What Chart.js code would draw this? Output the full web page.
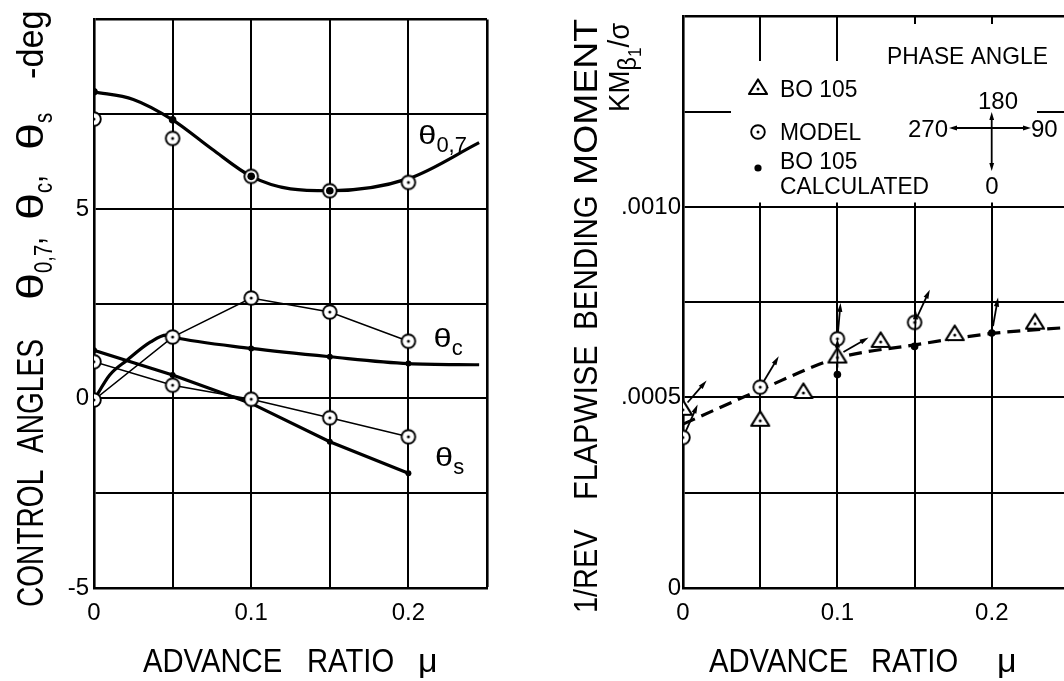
<!DOCTYPE html>
<html><head><meta charset="utf-8">
<script src="https://cdn.jsdelivr.net/npm/chart.js@4.4.1/dist/chart.umd.min.js"></script>
<style>
html,body{margin:0;padding:0;background:#fff;overflow:hidden;width:1064px;height:681px;}
#wl{position:absolute;left:0;top:0;width:540px;height:681px;}
#wr{position:absolute;left:540px;top:0;width:540px;height:681px;}
canvas{display:block;}
</style></head><body>
<div id="wl"><canvas id="cl" width="540" height="681"></canvas></div>
<div id="wr"><canvas id="cr" width="540" height="681"></canvas></div>
<script>
// ===== LEFT PANEL DATA: control angles (deg) vs advance ratio =====
const muModel = [0, 0.05, 0.1, 0.15, 0.2];
const theta07Model = [7.37, 6.86, 5.86, 5.48, 5.70];
const thetaCModel = [-0.04, 1.62, 2.65, 2.28, 1.51];
const thetaSModel = [0.97, 0.35, -0.02, -0.51, -1.01];
const mu07Calc = [0, 0.05, 0.1, 0.15];
const theta07Calc = [8.09, 7.35, 5.86, 5.48];
const muCCalc = [0.1, 0.15, 0.2];
const thetaCCalc = [1.32, 1.10, 0.92];
const muSCalc = [0, 0.05, 0.1, 0.15, 0.2];
const thetaSCalc = [1.27, 0.62, -0.13, -1.14, -1.97];
// faired calculated curves
const mu07Fair = [0, 0.025, 0.05, 0.075, 0.1, 0.125, 0.15, 0.2, 0.245];
const theta07Fair = [8.09, 7.89, 7.35, 6.58, 5.86, 5.53, 5.48, 5.80, 6.75];
const muCFair = [0, 0.01, 0.021, 0.036, 0.046, 0.05, 0.1, 0.15, 0.2, 0.245];
const thetaCFair = [-0.04, 0.62, 1.01, 1.49, 1.67, 1.62, 1.32, 1.10, 0.92, 0.89];
// left tick labels
const xLabelVals = [0, 0.1, 0.2];
const xLabelText = ['0', '0.1', '0.2'];
const leftYLabelVals = [-5, 0, 5];
const leftYLabelText = ['-5', '0', '5'];

// ===== RIGHT PANEL DATA: 1/rev flapwise bending moment =====
const muTrend = [0, 0.05, 0.1, 0.15, 0.2, 0.25];
const momTrend = [0.00043, 0.00052, 0.000603, 0.000638, 0.000668, 0.000684];
const muBO = [0, 0.05, 0.078, 0.1, 0.128, 0.176, 0.228];
const momBO = [0.000473, 0.000444, 0.000517, 0.00061, 0.000651, 0.000669, 0.000699];
const phaseBO = [139, null, null, 120, null, null, null];
const muMod = [0, 0.05, 0.1, 0.15];
const momMod = [0.000395, 0.000527, 0.000654, 0.000697];
const phaseMod = [156, 149, 175, 155];
const muBOc = [0.1, 0.15, 0.2];
const momBOc = [0.00056, 0.000634, 0.000669];
const phaseBOc = [180, 178, 170];
const rightYLabelVals = [0, 0.0005, 0.001];
const rightYLabelText = ['0', '.0005', '.0010'];

// ===== helpers =====
const FAM = '"Liberation Sans", Arial, sans-serif';
const pts = (xs, ys) => xs.map((x, i) => ({x: x, y: ys[i]}));
const near = (a, b, eps) => Math.abs(a - b) < eps;
function labelFor(vals, texts, eps) {
  return v => { const i = vals.findIndex(t => near(t, v, eps)); return i >= 0 ? texts[i] : ''; };
}
function makeCircleDot() {
  const c = document.createElement('canvas'); c.width = 18; c.height = 18;
  const g = c.getContext('2d');
  g.beginPath(); g.arc(9, 9, 6.8, 0, 2 * Math.PI); g.fillStyle = '#fff'; g.fill();
  g.lineWidth = 1.9; g.strokeStyle = '#000'; g.stroke();
  g.beginPath(); g.arc(9, 9, 1.5, 0, 2 * Math.PI); g.fillStyle = '#000'; g.fill();
  return c;
}
function makeTri() {
  const c = document.createElement('canvas'); c.width = 22; c.height = 20;
  const g = c.getContext('2d');
  g.beginPath(); g.moveTo(11, 2.5); g.lineTo(20, 17); g.lineTo(2, 17); g.closePath();
  g.fillStyle = '#fff'; g.fill(); g.lineWidth = 2.2; g.strokeStyle = '#000'; g.lineJoin = 'round'; g.stroke();
  g.beginPath(); g.arc(11, 12, 1.5, 0, 2 * Math.PI); g.fillStyle = '#000'; g.fill();
  return c;
}
const CIRC = makeCircleDot();
const TRI = makeTri();

// draw text segments; positions ('at') and advances in final pixels along the text
function drawRich(ctx, x, y, rot, segs, base, sx) {
  ctx.save(); ctx.translate(x, y); ctx.rotate(rot);
  ctx.fillStyle = '#000'; ctx.textAlign = 'left'; ctx.textBaseline = 'alphabetic';
  let cx = 0;
  for (const s of segs) {
    if (s.at !== undefined) cx = s.at;
    const size = s.size || base, k = s.sx || sx || 1;
    ctx.font = size + 'px ' + FAM;
    ctx.save(); ctx.translate(cx, s.dy || 0); ctx.scale(k, 1); ctx.fillText(s.t, 0, 0); ctx.restore();
    cx += ctx.measureText(s.t).width * k + (s.gap || 0);
  }
  ctx.restore();
}
function arrow(ctx, x0, y0, x1, y1, head, hw) {
  const dx = x1 - x0, dy = y1 - y0, L = Math.hypot(dx, dy), ux = dx / L, uy = dy / L;
  ctx.beginPath(); ctx.moveTo(x0, y0); ctx.lineTo(x1 - ux * head * 0.6, y1 - uy * head * 0.6); ctx.stroke();
  ctx.beginPath(); ctx.moveTo(x1, y1);
  ctx.lineTo(x1 - ux * head - uy * hw, y1 - uy * head + ux * hw);
  ctx.lineTo(x1 - ux * head + uy * hw, y1 - uy * head - ux * hw);
  ctx.closePath(); ctx.fill();
}
const whiteBg = {
  id: 'whiteBg',
  beforeDraw(chart) { const c = chart.ctx; c.save(); c.fillStyle = '#fff'; c.fillRect(0, 0, chart.width, chart.height); c.restore(); }
};
function gridOpts(edgeVal) {
  return {
    color: '#000', drawTicks: false,
    lineWidth: ctx => (ctx.tick && near(ctx.tick.value, edgeVal, 1e-9)) ? 2.6 : 2
  };
}
const tickFont = {family: FAM, size: 24};

// ===== LEFT CHART =====
const leftPlugin = {
  id: 'leftText',
  afterDraw(chart) {
    const c = chart.ctx, xs = chart.scales.x, ys = chart.scales.y;
    // y title
    drawRich(c, 43, 607, -Math.PI / 2, [
      {t: 'CONTROL', at: 0}, {t: 'ANGLES', at: 154},
      {t: 'θ', at: 307, sx: 1.35}, {t: '0,7', size: 26, dy: 9}, {t: ','},
      {t: 'θ', at: 387, sx: 1.35}, {t: 'c', size: 26, dy: 9}, {t: ','},
      {t: 'θ', at: 457, sx: 1.35}, {t: 's', size: 26, dy: 9},
      {t: '-deg', at: 528, sx: 0.95}
    ], 36, 0.78);
    // x title
    drawRich(c, 0, 672, 0, [{t: 'ADVANCE', at: 143}, {t: 'RATIO', at: 307}, {t: 'μ', at: 418, sx: 1}], 34, 0.86);
    // curve labels
    const lab = (mu, v, sub) => drawRich(c, xs.getPixelForValue(mu), ys.getPixelForValue(v), 0,
      [{t: 'θ', size: 26, sx: 1.25}, {t: sub, size: 22, dy: 8}], 26, 1);
    lab(0.2063, 6.70, '0,7');
    lab(0.216, 1.35, 'c');
    lab(0.217, -1.79, 's');
  }
};
new Chart(document.getElementById('cl'), {
  type: 'scatter',
  data: {datasets: [
    {data: pts(mu07Fair, theta07Fair), showLine: true, borderColor: '#000', borderWidth: 3.2, pointRadius: 0, cubicInterpolationMode: 'monotone', order: 5},
    {data: pts(muCFair, thetaCFair), showLine: true, borderColor: '#000', borderWidth: 3.2, pointRadius: 0, cubicInterpolationMode: 'monotone', order: 5},
    {data: pts(muSCalc, thetaSCalc), showLine: true, borderColor: '#000', borderWidth: 3.2, tension: 0, pointRadius: 3, pointBackgroundColor: '#000', pointBorderWidth: 0, order: 4},
    {data: pts(muModel, thetaCModel), showLine: true, borderColor: '#000', borderWidth: 1.5, tension: 0, pointStyle: CIRC, order: 2},
    {data: pts(muModel, thetaSModel), showLine: true, borderColor: '#000', borderWidth: 1.5, tension: 0, pointStyle: CIRC, order: 2},
    {data: pts(muModel, theta07Model), showLine: false, pointStyle: CIRC, order: 2},
    {data: pts(mu07Calc, theta07Calc), showLine: false, pointRadius: 3.8, pointBackgroundColor: '#000', pointBorderWidth: 0, order: 1},
    {data: pts(muCCalc, thetaCCalc), showLine: false, pointRadius: 3, pointBackgroundColor: '#000', pointBorderWidth: 0, order: 1}
  ]},
  options: {
    responsive: false, animation: false, devicePixelRatio: 1,
    layout: {padding: {top: 13, right: 53, left: 0, bottom: 0}},
    plugins: {legend: {display: false}, tooltip: {enabled: false}},
    scales: {
      x: {type: 'linear', min: 0, max: 0.25,
        ticks: {stepSize: 0.05, autoSkip: false, maxRotation: 0, padding: 11, color: '#000', font: tickFont, callback: labelFor(xLabelVals, xLabelText, 1e-6)},
        grid: gridOpts(0.25), border: {display: true, color: '#000', width: 2.6},
        afterFit: s => { s.height = 93; }},
      y: {type: 'linear', min: -5, max: 10,
        ticks: {stepSize: 2.5, autoSkip: false, padding: 5, color: '#000', font: tickFont, callback: labelFor(leftYLabelVals, leftYLabelText, 1e-6)},
        grid: gridOpts(10), border: {display: true, color: '#000', width: 2.6},
        afterFit: s => { s.width = 94; }}
    }
  },
  plugins: [whiteBg, leftPlugin]
});

// ===== RIGHT CHART =====
const OFF = 540; // page x of right canvas
const rightPlugin = {
  id: 'rightText',
  afterDatasetsDraw(chart) {
    const c = chart.ctx;
    c.save(); c.strokeStyle = '#000'; c.fillStyle = '#000'; c.lineWidth = 1.8;
    chart.data.datasets.forEach((ds, di) => {
      if (!ds.phase) return;
      const meta = chart.getDatasetMeta(di);
      meta.data.forEach((el, i) => {
        const ph = ds.phase[i];
        if (ph === null || ph === undefined) return;
        const a = ph * Math.PI / 180, ux = Math.sin(a), uy = Math.cos(a);
        arrow(c, el.x + ux * 7, el.y + uy * 7, el.x + ux * 36, el.y + uy * 36, 9, 2.6);
      });
    });
    c.restore();
  },
  afterDraw(chart) {
    const c = chart.ctx;
    // legend panel (blank region over grid)
    c.save(); c.fillStyle = '#fff';
    c.fillRect(731 - OFF, 61, 306, 141.5);
    c.fillRect(860 - OFF, 24, 177, 40);
    c.restore();
    // legend symbols
    c.drawImage(TRI, 758 - OFF - 11, 88 - 11);
    c.drawImage(CIRC, 758 - OFF - 9, 132 - 9);
    c.beginPath(); c.arc(758 - OFF, 168, 3.6, 0, 2 * Math.PI); c.fillStyle = '#000'; c.fill();
    const lt = (t, x, y) => drawRich(c, x - OFF, y, 0, [{t: t}], 24, 0.95);
    lt('BO 105', 780, 97);
    lt('MODEL', 780, 140);
    lt('BO 105', 780, 169);
    lt('CALCULATED', 780, 194);
    lt('PHASE ANGLE', 887, 64);
    c.save(); c.font = '24px ' + FAM; c.fillStyle = '#000'; c.textBaseline = 'alphabetic';
    c.textAlign = 'center'; c.fillText('180', 998 - OFF, 109); c.fillText('0', 992 - OFF, 194);
    c.textAlign = 'right'; c.fillText('270', 948 - OFF, 137);
    c.textAlign = 'left'; c.fillText('90', 1031 - OFF, 137);
    c.restore();
    c.save(); c.strokeStyle = '#000'; c.fillStyle = '#000'; c.lineWidth = 1.8;
    const cx = 991.7 - OFF, cy = 128;
    arrow(c, cx, cy, cx, 112, 8, 2.4);
    arrow(c, cx, cy, cx, 171, 8, 2.4);
    arrow(c, cx, cy, 949 - OFF, cy, 8, 2.4);
    arrow(c, cx, cy, 1031 - OFF, cy, 8, 2.4);
    c.restore();
    // y titles
    drawRich(c, 597 - OFF, 613, -Math.PI / 2, [
      {t: '1/REV', at: 0, sx: 0.85}, {t: 'FLAPWISE', at: 113, sx: 0.9},
      {t: 'BENDING', at: 283, sx: 0.87}, {t: 'MOMENT', at: 428, sx: 1.1}
    ], 34, 0.9);
    drawRich(c, 629 - OFF, 112, -Math.PI / 2, [{t: 'KM'}, {t: 'β', size: 25, dy: 7}, {t: '1', size: 18, dy: 12}, {t: '/σ'}], 29, 0.95);
    // x title
    drawRich(c, 0, 672, 0, [{t: 'ADVANCE', at: 709 - OFF}, {t: 'RATIO', at: 871 - OFF}, {t: 'μ', at: 997 - OFF, sx: 1}], 34, 0.86);
  }
};
new Chart(document.getElementById('cr'), {
  type: 'scatter',
  data: {datasets: [
    {data: pts(muTrend, momTrend), showLine: true, borderColor: '#000', borderWidth: 3.2, borderDash: [13, 7], pointRadius: 0, cubicInterpolationMode: 'monotone', order: 5},
    {data: pts(muBO, momBO), phase: phaseBO, showLine: false, pointStyle: TRI, order: 2},
    {data: pts(muMod, momMod), phase: phaseMod, showLine: false, pointStyle: CIRC, order: 2},
    {data: pts(muBOc, momBOc), phase: phaseBOc, showLine: false, pointRadius: 3.8, pointBackgroundColor: '#000', pointBorderWidth: 0, order: 1}
  ]},
  options: {
    responsive: false, animation: false, devicePixelRatio: 1,
    layout: {padding: {top: 13, right: 11, left: 0, bottom: 0}},
    plugins: {legend: {display: false}, tooltip: {enabled: false}},
    scales: {
      x: {type: 'linear', min: 0, max: 0.25,
        ticks: {stepSize: 0.05, autoSkip: false, maxRotation: 0, padding: 11, color: '#000', font: tickFont, callback: labelFor(xLabelVals, xLabelText, 1e-6)},
        grid: gridOpts(0.25), border: {display: true, color: '#000', width: 2.6},
        afterFit: s => { s.height = 93; }},
      y: {type: 'linear', min: 0, max: 0.0015,
        ticks: {stepSize: 0.00025, autoSkip: false, padding: 2, color: '#000', font: tickFont, callback: labelFor(rightYLabelVals, rightYLabelText, 1e-9)},
        grid: gridOpts(0.0015), border: {display: true, color: '#000', width: 2.6},
        afterFit: s => { s.width = 143; }}
    }
  },
  plugins: [whiteBg, rightPlugin]
});
</script>
</body></html>
